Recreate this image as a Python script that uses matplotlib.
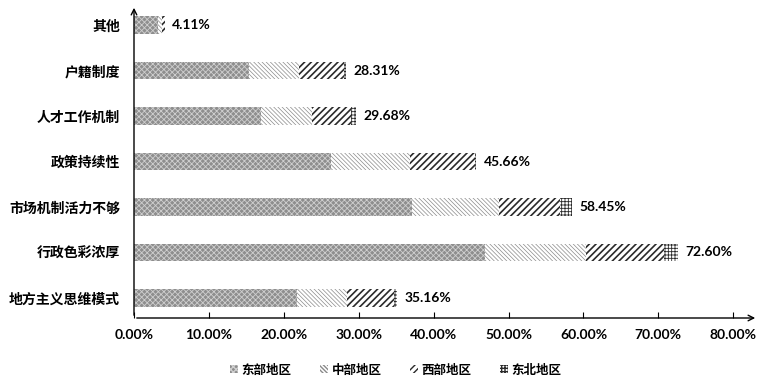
import matplotlib.pyplot as plt
import numpy as np

plt.rcParams['font.family'] = ['Lato', 'Noto Sans CJK SC', 'DejaVu Sans']

# 数据（从下到上）
categories = ['地方主义思维模式', '行政色彩浓厚', '市场机制活力不够', '政策持续性',
              '人才工作机制', '户籍制度', '其他']
east = [21.8, 46.9, 37.1, 26.3, 16.9, 15.3, 3.2]
central = [6.6, 13.5, 11.6, 10.5, 6.8, 6.7, 0.5]
west = [6.3, 10.3, 8.2, 8.7, 5.3, 6.1, 0.41]
northeast = [0.46, 1.9, 1.55, 0.16, 0.68, 0.21, 0.0]
totals = ['35.16%', '72.60%', '58.45%', '45.66%', '29.68%', '28.31%', '4.11%']
regions = ['东部地区', '中部地区', '西部地区', '东北地区']

fig = plt.figure(figsize=(7.61, 3.86), dpi=100)
ax = fig.add_axes([134 / 761, 1 - 318 / 386, (758 - 134) / 761, (318 - 5) / 386])

y = np.arange(len(categories))
h = 0.38
left = np.zeros(len(categories))
styles = [
    (dict(color='#8e8e8e', hatch='xxxxxx', edgecolor='#cfcfcf'), 0.6),
    (dict(color='white', hatch='\\\\\\\\\\\\\\\\', edgecolor='#8a8a8a'), 0.5),
    (dict(color='white', hatch='/////', edgecolor='#2a2a2a'), 1.2),
    (dict(color='white', hatch='+++++', edgecolor='#2a2a2a'), 0.6),
]
for vals, (st, hlw), name in zip([east, central, west, northeast], styles, regions):
    vals = np.array(vals)
    bars = ax.barh(y, vals, h, left=left, label=name, linewidth=0, **st)
    for b in bars:
        b.set_hatch_linewidth(hlw)
    left += vals

for yi, tot, lbl in zip(y, left, totals):
    ax.text(tot + 1.0, yi, lbl, va='center', ha='left', fontsize=10, fontweight='bold')

ax.set_xlim(0, 83.3)
ax.set_ylim(-0.44, 6.44)
ax.set_yticks(y)
ax.set_yticklabels(categories, fontsize=10, fontweight='bold')
ax.set_xticks(np.arange(0, 81, 10))
ax.set_xticklabels(['%.2f%%' % v for v in np.arange(0, 81, 10)], fontsize=10, fontweight='bold')
ax.tick_params(axis='y', length=0, pad=10)
ax.tick_params(axis='x', direction='in', length=4, pad=8)

for s in ['top', 'right', 'left', 'bottom']:
    ax.spines[s].set_visible(False)
ax.annotate('', xy=(1.0, 0), xytext=(0, 0), xycoords='axes fraction',
            arrowprops=dict(arrowstyle='->', color='black', lw=1.0))
ax.annotate('', xy=(0, 1.0), xytext=(0, 0), xycoords='axes fraction',
            arrowprops=dict(arrowstyle='->', color='black', lw=1.0))

leg = ax.legend(loc='upper center', bbox_to_anchor=(0.42, -0.11), ncol=4, frameon=False,
                handlelength=0.6, handleheight=0.6, handletextpad=0.3,
                columnspacing=2.3, prop={'weight': 'bold', 'size': 9})

fig.savefig('out.png', dpi=100)
